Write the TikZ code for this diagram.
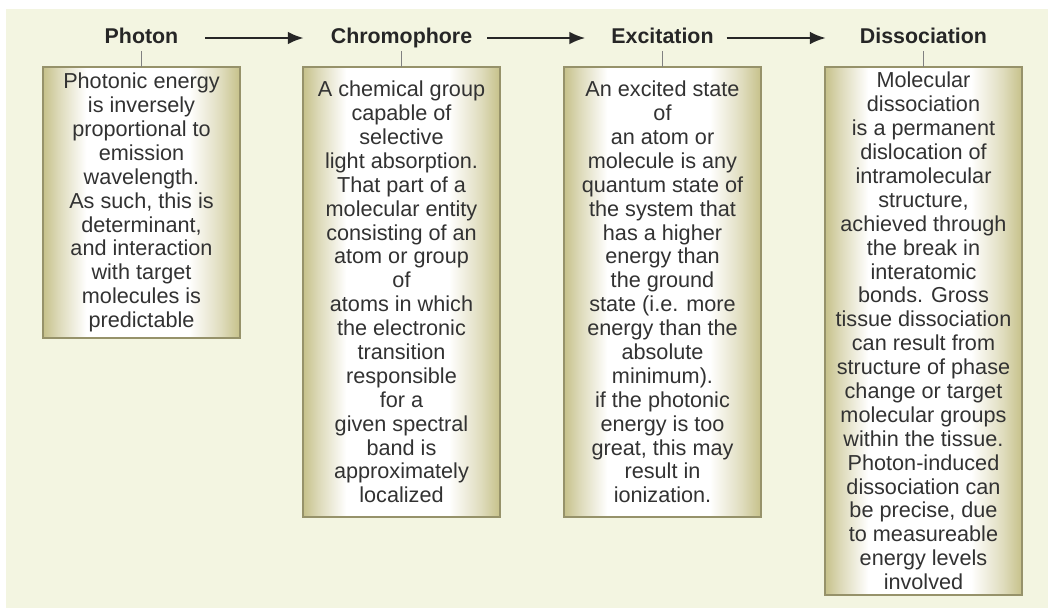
\documentclass[tikz,border=0pt]{standalone}
\usepackage{fontspec}
\setmainfont{Liberation Sans}
\usetikzlibrary{arrows.meta}
\definecolor{paperCream}{RGB}{243,245,225}
\definecolor{cardOlive}{RGB}{198,193,138}
\definecolor{cardEdge}{RGB}{150,146,106}
\definecolor{inkGray}{RGB}{50,50,50}
\pgfdeclarehorizontalshading{cardShade}{100bp}{color(0bp)=(cardOlive); color(25bp)=(cardOlive); color(29bp)=(cardOlive!60!white); color(36bp)=(white); color(62bp)=(white); color(70bp)=(cardOlive!55!white); color(75bp)=(cardOlive); color(100bp)=(cardOlive)}

\begin{document}
\begin{tikzpicture}[
  >=Latex,
  stepCard/.style={draw=cardEdge, line width=1pt, shade, shading=cardShade, minimum width=4.925cm, inner sep=0pt, outer sep=0pt, anchor=north, align=center, text=inkGray, font=\fontsize{15.4}{17}\selectfont},
  stepTitle/.style={font=\fontsize{15.2}{17}\selectfont\bfseries, text=black!85, text height=11pt, text depth=3pt, inner sep=2pt},
  link/.style={draw=black!50, line width=0.7pt},
  arrow/.style={-{Latex[length=4mm, width=3.2mm]}, line width=1.8pt, draw=black!85}
]
\useasboundingbox (0,0) rectangle (26.2,-15.2);
\fill[paperCream] (0.15,-0.225) rectangle (26.2,-15.2);

\node[stepTitle] (photon) at (3.5375,-0.95) {Photon};
\node[stepTitle] (chromo) at (10.0375,-0.95) {Chromophore};
\node[stepTitle] (excite) at (16.5625,-0.95) {Excitation};
\node[stepTitle] (dissoc) at (23.0875,-0.95) {Dissociation};

\node[stepCard, minimum height=6.775cm] (photonBox) at (3.5375,-1.675) {
  Photonic energy\\ is inversely\\ proportional to\\ emission\\ wavelength.\\
  As such, this is\\ determinant,\\ and interaction\\ with target\\ molecules is\\ predictable
};
\node[stepCard, minimum height=11.25cm] (chromoBox) at (10.0375,-1.675) {
  A chemical group\\ capable of\\ selective\\ light absorption.\\ That part of a\\
  molecular entity\\ consisting of an\\ atom or group\\ of\\ atoms in which\\
  the electronic\\ transition\\ responsible\\ for a\\ given spectral\\ band is\\
  approximately\\ localized
};
\node[stepCard, minimum height=11.25cm] (exciteBox) at (16.5625,-1.675) {
  An excited state\\ of\\ an atom or\\ molecule is any\\ quantum state of\\
  the system that\\ has a higher\\ energy than\\ the ground\\ state (i.e. more\\
  energy than the\\ absolute\\ minimum).\\ if the photonic\\ energy is too\\
  great, this may\\ result in\\ ionization.
};
\node[stepCard, minimum height=13.2cm] (dissocBox) at (23.0875,-1.675) {
  Molecular\\ dissociation\\ is a permanent\\ dislocation of\\ intramolecular\\
  structure,\\ achieved through\\ the break in\\ interatomic\\ bonds. Gross\\
  tissue dissociation\\ can result from\\ structure of phase\\ change or target\\
  molecular groups\\ within the tissue.\\ Photon-induced\\ dissociation can\\
  be precise, due\\ to measureable\\ energy levels\\ involved
};

% title to card
\draw[link] (photon.south) -- (photonBox.north);
\draw[link] (chromo.south) -- (chromoBox.north);
\draw[link] (excite.south) -- (exciteBox.north);
\draw[link] (dissoc.south) -- (dissocBox.north);

\draw[arrow, shorten <=0.6cm, shorten >=0.6cm] (photon.east) -- (chromo.west);
\draw[arrow, shorten <=0.3cm, shorten >=0.575cm] (chromo.east) -- (excite.west);
\draw[arrow, shorten <=0.25cm, shorten >=0.775cm] (excite.east) -- (dissoc.west);
\end{tikzpicture}
\end{document}
